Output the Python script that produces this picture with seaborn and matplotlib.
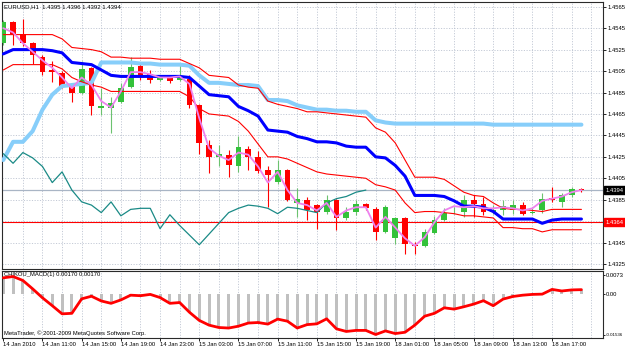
import matplotlib
matplotlib.use('Agg')
import matplotlib.pyplot as plt
import matplotlib.transforms as mtransforms
import numpy as np
import pandas as pd
import seaborn as sns

# EURUSD H1 bars, first bar 14 Jan 2010 07:00, last bar 18 Jan 18:00
opens = [1.4531, 1.4551, 1.4540, 1.4531, 1.4518, 1.4506, 1.4503, 1.4490, 1.4485, 1.4508,
         1.4471, 1.4471, 1.4476, 1.4490, 1.4510, 1.4502, 1.4497, 1.4499, 1.4497, 1.4498,
         1.4473, 1.4436, 1.4425, 1.4427, 1.4416, 1.4432, 1.4425, 1.4413, 1.4402, 1.4413,
         1.4382, 1.4385, 1.4380, 1.4374, 1.4385, 1.4368, 1.4374, 1.4381, 1.4376, 1.4355,
         1.4349, 1.4368, 1.4343, 1.4342, 1.4354, 1.4366, 1.4375, 1.4374, 1.4385, 1.4381,
         1.4374, 1.4375, 1.4375, 1.4380, 1.4373, 1.4375, 1.4387, 1.4383, 1.4389, 1.4395]
highs = [1.4553, 1.4552, 1.4554, 1.4532, 1.4520, 1.4514, 1.4505, 1.4494, 1.4514, 1.4509,
         1.4489, 1.4481, 1.4494, 1.4518, 1.4512, 1.4506, 1.4501, 1.4501, 1.4511, 1.4501,
         1.4474, 1.4441, 1.4436, 1.4431, 1.4444, 1.4435, 1.4430, 1.4416, 1.4422, 1.4414,
         1.4396, 1.4388, 1.4381, 1.4389, 1.4386, 1.4378, 1.4385, 1.4382, 1.4378, 1.4380,
         1.4369, 1.4369, 1.4346, 1.4358, 1.4370, 1.4377, 1.4378, 1.4389, 1.4389, 1.4388,
         1.4380, 1.4385, 1.4385, 1.4383, 1.4378, 1.4391, 1.4397, 1.4391, 1.4397, 1.4396]
lows = [1.4529, 1.4529, 1.4528, 1.4512, 1.4501, 1.4495, 1.4489, 1.4476, 1.4484, 1.4464,
        1.4464, 1.4447, 1.4475, 1.4489, 1.4497, 1.4494, 1.4496, 1.4494, 1.4496, 1.4471,
        1.4428, 1.4410, 1.4416, 1.4406, 1.4411, 1.4413, 1.4410, 1.4378, 1.4400, 1.4384,
        1.4369, 1.4366, 1.4358, 1.4372, 1.4357, 1.4366, 1.4371, 1.4375, 1.4347, 1.4354,
        1.4344, 1.4334, 1.4334, 1.4341, 1.4353, 1.4365, 1.4372, 1.4369, 1.4369, 1.4371,
        1.4372, 1.4371, 1.4372, 1.4371, 1.4372, 1.4373, 1.4383, 1.4378, 1.4388, 1.4392]
closes = [1.4551, 1.4540, 1.4531, 1.4520, 1.4504, 1.4504, 1.4490, 1.4485, 1.4507, 1.4472,
          1.4472, 1.4475, 1.4489, 1.4509, 1.4501, 1.4497, 1.4499, 1.4496, 1.4500, 1.4473,
          1.4438, 1.4425, 1.4428, 1.4417, 1.4434, 1.4425, 1.4412, 1.4408, 1.4413, 1.4385,
          1.4386, 1.4375, 1.4374, 1.4385, 1.4368, 1.4374, 1.4381, 1.4377, 1.4355, 1.4378,
          1.4368, 1.4344, 1.4342, 1.4355, 1.4366, 1.4373, 1.4375, 1.4385, 1.4381, 1.4374,
          1.4375, 1.4379, 1.4380, 1.4372, 1.4374, 1.4386, 1.4385, 1.4389, 1.4395, 1.4394]

# indicator lines on the price chart
upper_band = [1.4539, 1.4539, 1.4539, 1.4539, 1.4539, 1.4539, 1.4535, 1.4527, 1.4526, 1.4525,
              1.4523, 1.4518, 1.4518, 1.4517, 1.4517, 1.4517, 1.4516, 1.4516, 1.4516, 1.4512,
              1.4508, 1.4501, 1.4500, 1.4499, 1.4492, 1.4490, 1.4489, 1.4477, 1.4474, 1.4472,
              1.4470, 1.4467, 1.4467, 1.4466, 1.4465, 1.4464, 1.4463, 1.4462, 1.4452, 1.4448,
              1.4438, 1.4422, 1.4406, 1.4406, 1.4406, 1.4404, 1.4398, 1.4392, 1.4389, 1.4388,
              1.4382, 1.4377, 1.4376, 1.4376, 1.4375, 1.4374, 1.4376, 1.4376, 1.4376, 1.4376]
lower_band = [1.4506, 1.4511, 1.4511, 1.4511, 1.4511, 1.4511, 1.4507, 1.4499, 1.4495, 1.4492,
              1.4490, 1.4486, 1.4486, 1.4486, 1.4486, 1.4486, 1.4486, 1.4486, 1.4486, 1.4481,
              1.4470, 1.4465, 1.4464, 1.4463, 1.4458, 1.4449, 1.4437, 1.4425, 1.4425, 1.4423,
              1.4419, 1.4415, 1.4411, 1.4409, 1.4408, 1.4407, 1.4406, 1.4405, 1.4399, 1.4397,
              1.4394, 1.4382, 1.4373, 1.4374, 1.4374, 1.4373, 1.4372, 1.4370, 1.4370, 1.4369,
              1.4368, 1.4359, 1.4359, 1.4358, 1.4358, 1.4355, 1.4357, 1.4357, 1.4357, 1.4357]
mid_line = [1.4521, 1.4525, 1.4525, 1.4525, 1.4525, 1.4524, 1.4522, 1.4513, 1.4512, 1.4511,
            1.4506, 1.4501, 1.4500, 1.4500, 1.4500, 1.4500, 1.4500, 1.4500, 1.4500, 1.4499,
            1.4491, 1.4483, 1.4482, 1.4481, 1.4472, 1.4468, 1.4463, 1.4450, 1.4449, 1.4448,
            1.4444, 1.4442, 1.4439, 1.4439, 1.4438, 1.4435, 1.4434, 1.4434, 1.4425, 1.4424,
            1.4417, 1.4407, 1.4389, 1.4389, 1.4389, 1.4388, 1.4384, 1.4379, 1.4379, 1.4378,
            1.4374, 1.4367, 1.4367, 1.4367, 1.4367, 1.4363, 1.4366, 1.4367, 1.4367, 1.4367]
slow_line = [1.4422, 1.4439, 1.4439, 1.4449, 1.4469, 1.4483, 1.4491, 1.4492, 1.4493, 1.4494,
             1.4513, 1.4513, 1.4513, 1.4513, 1.4512, 1.4512, 1.4511, 1.4511, 1.4511, 1.4510,
             1.4501, 1.4494, 1.4494, 1.4493, 1.4492, 1.4492, 1.4491, 1.4478, 1.4478, 1.4477,
             1.4473, 1.4471, 1.4469, 1.4469, 1.4468, 1.4468, 1.4467, 1.4467, 1.4459, 1.4457,
             1.4456, 1.4456, 1.4456, 1.4456, 1.4456, 1.4456, 1.4456, 1.4456, 1.4456, 1.4456,
             1.4455, 1.4455, 1.4455, 1.4455, 1.4455, 1.4455, 1.4455, 1.4455, 1.4455, 1.4455]
fast_line = [1.4545, 1.4541, 1.4531, 1.4523, 1.4515, 1.4508, 1.4499, 1.4489, 1.4499, 1.4492,
             1.4477, 1.4471, 1.4486, 1.4504, 1.4504, 1.4502, 1.4499, 1.4499, 1.4500, 1.4493,
             1.4461, 1.4433, 1.4426, 1.4422, 1.4429, 1.4427, 1.4416, 1.4401, 1.4411, 1.4394,
             1.4382, 1.4380, 1.4375, 1.4382, 1.4369, 1.4375, 1.4378, 1.4378, 1.4359, 1.4369,
             1.4359, 1.4349, 1.4342, 1.4350, 1.4364, 1.4375, 1.4379, 1.4378, 1.4379, 1.4377,
             1.4377, 1.4378, 1.4377, 1.4375, 1.4377, 1.4384, 1.4386, 1.4388, 1.4392, 1.4394]
chikou = [1.4428, 1.4419, 1.4429, 1.4424, 1.4416, 1.4401, 1.4411, 1.4394, 1.4383, 1.4380,
          1.4373, 1.4383, 1.4370, 1.4376, 1.4377, 1.4377, 1.4358, 1.4371, 1.4361, 1.4352,
          1.4343, 1.4353, 1.4363, 1.4373, 1.4377, 1.4380, 1.4379, 1.4377, 1.4372, 1.4378,
          1.4377, 1.4375, 1.4373, 1.4382, 1.4386, 1.4388, 1.4392, 1.4394]
last_price = 1.4394
level_price = 1.4364

# CHIKOU_MACD(1) sub window
macd = [0.0062, 0.0067, 0.0052, 0.0020, -0.0014, -0.0044, -0.0075, -0.0073, -0.0018, -0.0008,
        -0.0026, -0.0035, -0.0022, -0.0004, -0.0006, -0.0001, -0.0013, -0.0035, -0.0032, -0.0069,
        -0.0100, -0.0118, -0.0127, -0.0129, -0.0122, -0.0110, -0.0108, -0.0114, -0.0095, -0.0103,
        -0.0129, -0.0116, -0.0113, -0.0094, -0.0132, -0.0142, -0.0138, -0.0138, -0.01536, -0.0140,
        -0.0150, -0.0145, -0.0118, -0.0084, -0.0073, -0.0052, -0.0057, -0.0048, -0.0038, -0.0025,
        -0.0044, -0.0019, -0.0009, -0.0004, -0.0001, 0.0000, 0.0018, 0.0012, 0.0016, 0.0017]

price_ticks = [1.4325, 1.4345, 1.4365, 1.4385, 1.4405, 1.4425, 1.4445,
               1.4465, 1.4485, 1.4505, 1.4525, 1.4545, 1.4565]
macd_ticks = [0.0073, 0.0, -0.01536]
macd_tick_labels = ['0.0073', '0.00', '-0.01536']
time_labels = ['14 Jan 2010', '14 Jan 11:00', '14 Jan 15:00', '14 Jan 19:00', '14 Jan 23:00',
               '15 Jan 03:00', '15 Jan 07:00', '15 Jan 11:00', '15 Jan 15:00', '15 Jan 19:00',
               '18 Jan 01:00', '18 Jan 05:00', '18 Jan 09:00', '18 Jan 13:00', '18 Jan 17:00']

bull_color = '#33c23a'
bull_wick = '#6cc26f'
bear_color = '#ff0000'
grid_color = '#b4bccb'
edge_color = '#2a2a2a'

sns.set_style('white')
plt.rcParams['font.family'] = ['Liberation Sans', 'DejaVu Sans']
plt.rcParams['font.size'] = 4.2

fig = plt.figure(figsize=(6.25, 3.49), dpi=100)
ax = fig.add_axes([2 / 625, 1 - 269 / 349, 601 / 625, 267 / 349])
ax2 = fig.add_axes([2 / 625, 1 - 337.5 / 349, 601 / 625, 66.5 / 349], sharex=ax)

df = pd.DataFrame({'open': opens, 'high': highs, 'low': lows, 'close': closes,
                   'upper': upper_band, 'lower': lower_band, 'mid': mid_line,
                   'slow': slow_line, 'fast': fast_line, 'macd': macd})
df['bar'] = np.arange(len(df))
up = df['close'] >= df['open']

# grid (dotted, every second bar / every 20 pips)
grid_bars = np.arange(2, len(df) + 2, 2)
for a in (ax, ax2):
    a.vlines(grid_bars, 0, 1, transform=a.get_xaxis_transform(), colors=grid_color,
             linestyles=(0, (1.5, 2)), linewidth=0.55, zorder=0)
ax.hlines(price_ticks, 0, 1, transform=ax.get_yaxis_transform(), colors=grid_color,
          linestyles=(0, (1.5, 2)), linewidth=0.55, zorder=0)

# candles
for mask, body_c, wick_c in [(up, bull_color, bull_wick), (~up, bear_color, bear_color)]:
    sub = df[mask]
    ax.vlines(sub['bar'], sub['low'], sub['high'], colors=wick_c, linewidth=0.8, zorder=2)
    height = (sub['close'] - sub['open']).abs().clip(lower=0.00005)
    ax.bar(sub['bar'], height, bottom=sub[['open', 'close']].min(axis=1), width=0.6,
           color=body_c, linewidth=0, zorder=3)

# horizontal levels
ax.axhline(last_price, color='#a9b5c5', linewidth=0.9, zorder=1)
ax.axhline(level_price, color='#ff0000', linewidth=0.8, zorder=1)

# indicator lines
sns.lineplot(data=df, x='bar', y='slow', ax=ax, color='#87cefa', linewidth=2.9, zorder=4)
sns.lineplot(data=df, x='bar', y='upper', ax=ax, color='#ff0000', linewidth=0.8, zorder=4)
sns.lineplot(data=df, x='bar', y='lower', ax=ax, color='#ff0000', linewidth=0.8, zorder=4)
sns.lineplot(data=df, x='bar', y='mid', ax=ax, color='#0000ff', linewidth=2.2, zorder=5)
sns.lineplot(x=np.arange(len(chikou)), y=chikou, ax=ax, color='#1a8a86', linewidth=0.9, zorder=4)
sns.lineplot(data=df, x='bar', y='fast', ax=ax, color='#ee82ee', linewidth=1.3, zorder=6)

ax.set_xlim(-0.13, 61.2)
ax.set_ylim(1.43204, 1.45694)
ax.set_xlabel('')
ax.set_ylabel('')
ax.yaxis.tick_right()
ax.set_yticks(price_ticks)
ax.set_yticklabels(['' if abs(p - 1.4365) < 1e-6 else f'{p:.4f}' for p in price_ticks])
ax.tick_params(axis='y', length=2, width=0.6, pad=1.5, labelsize=4.2, colors='black', right=True)
ax.tick_params(axis='x', length=0, labelbottom=False)

# price boxes on the right scale
box_tr = mtransforms.blended_transform_factory(ax.transAxes, ax.transData)
ax.text(1.004, last_price, f'{last_price:.4f}', transform=box_tr, ha='left', va='center',
        color='white', fontsize=4.2, clip_on=False,
        bbox=dict(boxstyle='square,pad=0.3', fc='black', ec='black'))
ax.text(1.004, level_price, f'{level_price:.4f}', transform=box_tr, ha='left', va='center',
        color='white', fontsize=4.2, clip_on=False,
        bbox=dict(boxstyle='square,pad=0.3', fc='#ff0000', ec='#ff0000'))

ax.text(0.004, 0.981, 'EURUSD,H1  1.4395 1.4396 1.4392 1.4394', transform=ax.transAxes,
        ha='left', va='center', fontsize=4.3, color='black', zorder=7)

# MACD sub window
ax2.bar(df['bar'], df['macd'], width=0.3, color='#c0c0c0', linewidth=0, zorder=2)
sns.lineplot(data=df, x='bar', y='macd', ax=ax2, color='#ff0000', linewidth=2.0, zorder=3)
ax2.set_ylim(-0.0165, 0.0088)
ax2.set_xlabel('')
ax2.set_ylabel('')
ax2.yaxis.tick_right()
ax2.set_yticks(macd_ticks)
ax2.set_yticklabels(macd_tick_labels)
ax2.tick_params(axis='y', length=1.5, width=0.6, pad=0.6, labelsize=4.2, colors='black', right=True)
ax2.get_yticklabels()[2].set_fontsize(3.2)
ax2.set_xticks(np.arange(0, 4 * len(time_labels), 4))
ax2.set_xticklabels(time_labels)
for lbl in ax2.get_xticklabels():
    lbl.set_ha('left')
ax2.tick_params(axis='x', length=2, width=0.6, pad=1.0, labelsize=4.2, colors='black', bottom=True)

ax2.text(0.004, 0.94, 'CHIKOU_MACD(1) 0.00170 0.00170', transform=ax2.transAxes,
         ha='left', va='center', fontsize=4.2, color='black', zorder=1)
ax2.text(0.004, 0.07, 'MetaTrader, \u00a9 2001-2009 MetaQuotes Software Corp.',
         transform=ax2.transAxes, ha='left', va='center', fontsize=4.2, color='black', zorder=4)

for a in (ax, ax2):
    for s in a.spines.values():
        s.set_color(edge_color)
        s.set_linewidth(0.8)

fig.savefig('out.png', dpi=100, facecolor='white')
